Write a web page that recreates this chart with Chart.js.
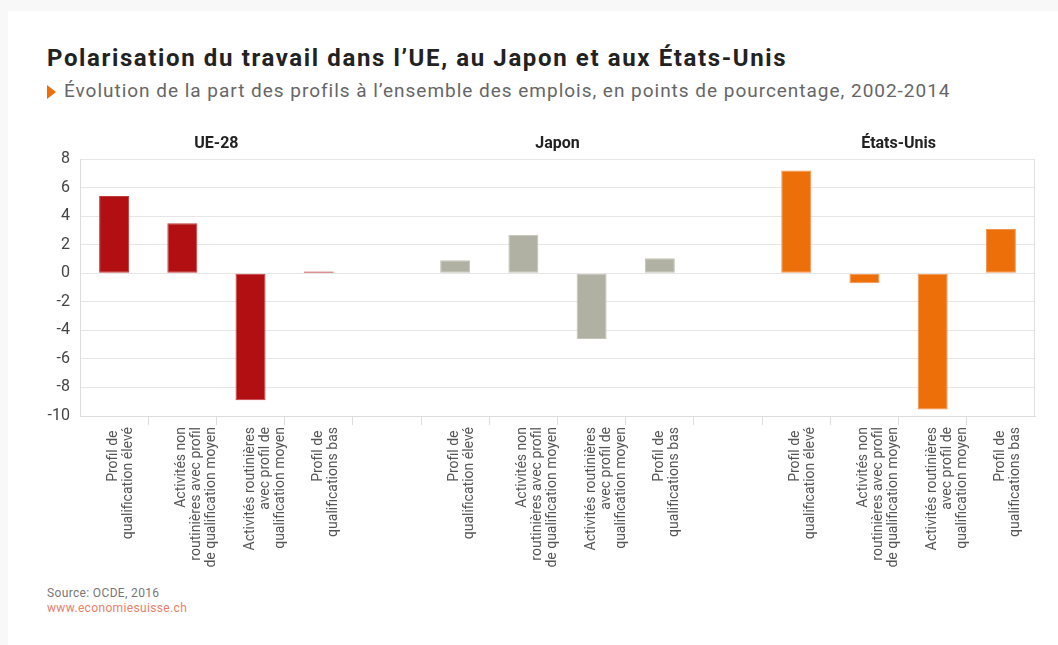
<!DOCTYPE html>
<html>
<head>
<meta charset="utf-8">
<script src="https://cdn.jsdelivr.net/npm/chart.js@4.4.1/dist/chart.umd.min.js"></script>
<style>
  html, body { margin: 0; padding: 0; background: #f8f8f8; width: 1058px; height: 645px; overflow: hidden; }
  #card { position: absolute; left: 8px; top: 11px; width: 1050px; height: 634px; background: #ffffff; }
  #title { position: absolute; left: 39px; top: 33px; font-family: Roboto, sans-serif; font-weight: 700; font-size: 24px; letter-spacing: 1.62px; color: #222222; white-space: nowrap; }
  #subtitle { position: absolute; left: 56px; top: 68px; font-family: Roboto, sans-serif; font-size: 19px; letter-spacing: 0.98px; color: #666666; white-space: nowrap; }
  #tri { position: absolute; left: 39px; top: 74px; width: 0; height: 0; border-top: 7px solid transparent; border-bottom: 7px solid transparent; border-left: 9px solid #ed6f0a; }
  #source { position: absolute; left: 39px; top: 575px; font-family: Roboto, sans-serif; font-size: 12px; letter-spacing: 0.35px; color: #777777; }
  #url { position: absolute; left: 39px; top: 590px; font-family: Roboto, sans-serif; font-size: 12px; letter-spacing: 0.35px; color: #e8806a; }
  #chart { position: absolute; left: 8px; top: 130px; }
</style>
</head>
<body>
<div id="card">
  <div id="title">Polarisation du travail dans l’UE, au Japon et aux États-Unis</div>
  <div id="tri"></div>
  <div id="subtitle">Évolution de la part des profils à l’ensemble des emplois, en points de pourcentage, 2002-2014</div>
  <div id="source">Source: OCDE, 2016</div>
  <div id="url">www.economiesuisse.ch</div>
</div>
<canvas id="chart" width="1050" height="450"></canvas>
<script>
// ---- Data ----
const groups = ["UE-28", "Japon", "États-Unis"];
const profileLabels = [
  ["Profil de ", "qualification élevé"],
  ["Activités non", "routinières avec profil", "de qualification moyen"],
  ["Activités routinières", "avec profil de", "qualification moyen"],
  ["Profil de ", "qualifications bas"]
];
const valuesUE = [5.4, 3.5, -8.9, 0.12];
const valuesJapon = [0.9, 2.7, -4.6, 1.05];
const valuesUS = [7.2, -0.7, -9.55, 3.1];
const groupColors = ["#b20f12", "#b0b0a3", "#ed6f0a"];
const groupBorders = ["#c43a3c", "#c4c4b9", "#f29450"];
const yTicks = [8, 6, 4, 2, 0, -2, -4, -6, -8, -10];

// Build category axis: 4 bars per group with an empty category between groups
const seriesByGroup = [valuesUE, valuesJapon, valuesUS];
const labels = [];
const data = [];
const bg = [];
const bc = [];
const groupIndices = [];
seriesByGroup.forEach((vals, g) => {
  if (g > 0) { labels.push(""); data.push(null); bg.push("transparent"); bc.push("transparent"); }
  const idx = [];
  vals.forEach((v, i) => {
    idx.push(labels.length);
    labels.push(profileLabels[i]);
    data.push(v);
    bg.push(groupColors[g]);
    bc.push(groupBorders[g]);
  });
  groupIndices.push(idx);
});

const FONT = "Roboto, sans-serif";
const LABEL_LH = 15;

const frame = {
  id: "frame",
  beforeDraw(chart) {
    // center multi-line rotated tick labels on their category
    const sx = chart.scales.x;
    const items = sx.getLabelItems(chart.chartArea);
    items.forEach(it => {
      const lbl = it.options.label;
      const n = Array.isArray(lbl) ? lbl.length : 1;
      it.options.translation[0] += -(n - 1) * LABEL_LH / 2 - 0.5;
    });
  },
  afterDraw(chart) {
    const { ctx, chartArea: a, scales } = chart;
    ctx.save();
    ctx.strokeStyle = "#e2e2e2";
    ctx.lineWidth = 1;
    ctx.beginPath();
    ctx.moveTo(Math.round(a.right) - 0.5, a.top);
    ctx.lineTo(Math.round(a.right) - 0.5, a.bottom);
    ctx.stroke();
    // group titles
    ctx.fillStyle = "#222222";
    ctx.font = "700 16px " + FONT;
    ctx.textAlign = "center";
    ctx.textBaseline = "middle";
    groupIndices.forEach((idx, g) => {
      const x0 = scales.x.getPixelForValue(idx[0]);
      const x1 = scales.x.getPixelForValue(idx[idx.length - 1]);
      ctx.fillText(groups[g], (x0 + x1) / 2, a.top - 15);
    });
    ctx.restore();
  }
};

new Chart(document.getElementById("chart"), {
  type: "bar",
  data: {
    labels: labels,
    datasets: [{
      data: data,
      backgroundColor: bg,
      borderColor: bc,
      borderWidth: 1,
      borderSkipped: false,
      categoryPercentage: 1,
      barPercentage: 0.44
    }]
  },
  options: {
    responsive: false,
    devicePixelRatio: 1,
    animation: false,
    layout: { padding: { top: 29, right: 23, left: 0, bottom: 0 } },
    plugins: { legend: { display: false }, tooltip: { enabled: false } },
    scales: {
      x: {
        offset: true,
        grid: {
          offset: true,
          drawOnChartArea: false,
          drawTicks: true,
          tickLength: 9,
          color: (c) => (c.type === "tick" && c.index > 0) ? "#dddddd" : "transparent"
        },
        border: { display: true, color: "#dddddd" },
        ticks: {
          autoSkip: false,
          maxRotation: 90,
          minRotation: 90,
          padding: 2,
          color: "#555555",
          font: { family: FONT, size: 14, lineHeight: LABEL_LH / 14 }
        },
        afterFit(scale) { scale.height = 164; }
      },
      y: {
        min: -10,
        max: 8,
        afterBuildTicks(scale) { scale.ticks = yTicks.map(v => ({ value: v })); },
        grid: { color: "#e6e6e6", drawTicks: false },
        border: { display: true, color: "#dddddd" },
        ticks: {
          padding: 10,
          color: "#444444",
          font: { family: FONT, size: 16 }
        },
        afterFit(scale) { scale.width = 72; }
      }
    }
  },
  plugins: [frame]
});
</script>
</body>
</html>
